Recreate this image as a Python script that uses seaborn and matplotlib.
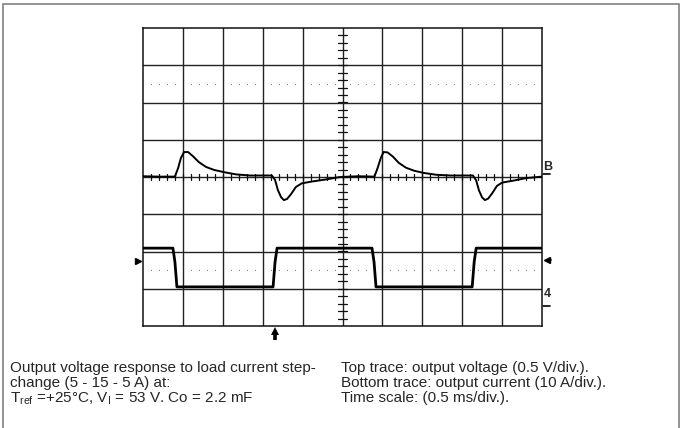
import numpy as np
import matplotlib
matplotlib.use("Agg")
import matplotlib.pyplot as plt
from matplotlib.patches import Rectangle
import seaborn as sns

sns.set_style("white")
plt.rcParams["font.family"] = ["Liberation Sans", "DejaVu Sans"]
plt.rcParams["mathtext.fontset"] = "custom"
plt.rcParams["mathtext.rm"] = "Liberation Sans"

# top trace: output voltage (divisions)
volt_t = [0.00, 0.40, 0.80, 0.88, 0.95, 1.03, 1.13, 1.25, 1.40, 1.58, 1.78, 2.03, 2.33, 2.68,
          3.23, 3.31, 3.38, 3.46, 3.53, 3.61, 3.71, 3.83, 3.98, 4.24, 4.56, 4.94, 5.40,
          5.80, 5.88, 5.96, 6.03, 6.13, 6.26, 6.41, 6.59, 6.79, 7.03, 7.35, 7.70,
          8.27, 8.35, 8.42, 8.50, 8.57, 8.65, 8.75, 8.87, 9.00, 9.27, 9.60, 10.00]
volt_v = [0.02, 0.01, 0.01, 0.24, 0.51, 0.67, 0.67, 0.56, 0.40, 0.27, 0.19, 0.13, 0.07, 0.04,
          0.04, -0.08, -0.35, -0.54, -0.62, -0.59, -0.46, -0.27, -0.17, -0.12, -0.07, 0.00, 0.02,
          0.01, 0.24, 0.51, 0.67, 0.66, 0.55, 0.38, 0.25, 0.17, 0.11, 0.06, 0.04,
          0.04, -0.09, -0.36, -0.55, -0.62, -0.58, -0.44, -0.24, -0.15, -0.10, -0.03, 0.01]

# bottom trace: output current (divisions)
curr_t = [0.00, 0.75, 0.80, 0.85, 3.26, 3.31, 3.36, 5.74, 5.79, 5.84, 8.25, 8.30, 8.35, 10.00]
curr_v = [-1.91, -1.91, -2.28, -2.95, -2.95, -2.28, -1.91, -1.91, -2.28, -2.95, -2.95, -2.28, -1.91, -1.91]

caption_left = ["Output voltage response to load current step-",
                "change (5 - 15 - 5 A) at:",
                r"T$_{\rm ref}$ =+25°C, V$_{\rm I}$ = 53 V. Co = 2.2 mF"]
caption_right = ["Top trace: output voltage (0.5 V/div.).",
                 "Bottom trace: output current (10 A/div.).",
                 "Time scale: (0.5 ms/div.)."]

W, H = 684, 428
fig = plt.figure(figsize=(W / 100, H / 100), dpi=100)
ax = fig.add_axes([143 / W, 1 - 326 / H, (542 - 143) / W, (326 - 28) / H])
ax.set_xlim(0, 10)
ax.set_ylim(-4, 4)
ax.set_xticks([])
ax.set_yticks([])
for s in ax.spines.values():
    s.set_color("#111111")
    s.set_linewidth(1.1)

# screen graticule
for x in range(1, 10):
    ax.axvline(x, color="#222222", lw=1.0, zorder=1)
for y in range(-3, 4):
    ax.axhline(y, color="#222222", lw=1.0, zorder=1)

minor = np.arange(0, 10.01, 0.2)
minor = minor[np.abs(minor - np.round(minor)) > 0.05]
for yd in (2.5, -2.5):
    ax.plot(minor, np.full_like(minor, yd), ls="none", marker="s", ms=0.8,
            mew=0, color="#888888", zorder=1)
for x in np.arange(0.2, 10, 0.2):
    ax.plot([x, x], [-0.08, 0.08], color="#111111", lw=0.9, zorder=1)
for y in np.arange(-3.8, 4, 0.2):
    ax.plot([4.88, 5.12], [y, y], color="#111111", lw=0.9, zorder=1)

sns.lineplot(x=volt_t, y=volt_v, ax=ax, color="black", lw=1.4, sort=False, zorder=3)
sns.lineplot(x=curr_t, y=curr_v, ax=ax, color="black", lw=2.0, sort=False, zorder=3)

# channel markers
ax.text(10.04, 0.27, "B", fontsize=9, fontweight="bold", ha="left", va="center",
        clip_on=False)
ax.plot([10.03, 10.2], [0.07, 0.07], color="black", lw=1.2, clip_on=False)
ax.plot([10.12], [-2.23], marker="<", ms=5, color="black", clip_on=False)
ax.plot([10.12, 10.22], [-2.23, -2.23], color="black", lw=1.2, clip_on=False)
ax.text(10.04, -3.13, "4", fontsize=9, fontweight="bold", ha="left", va="center",
        clip_on=False)
ax.plot([10.03, 10.2], [-3.46, -3.46], color="black", lw=1.2, clip_on=False)
ax.plot([-0.12], [-2.25], marker=">", ms=5, color="black", clip_on=False)
# trigger arrow below the screen
ax.plot([3.31, 3.31], [-4.14, -4.37], color="black", lw=2.6, clip_on=False,
        solid_capstyle="butt")
ax.plot([3.31], [-4.13], marker="^", ms=6, mew=0, color="black", clip_on=False)

# captions
for i, line in enumerate(caption_left):
    fig.text(10 / W, 1 - (372 + 15 * i) / H, line, fontsize=11, va="baseline")
for i, line in enumerate(caption_right):
    fig.text(341 / W, 1 - (372 + 15 * i) / H, line, fontsize=11, va="baseline")

fig.patches.append(Rectangle((3 / W, -0.01), (679 - 3) / W, 1 - 4 / H + 0.01,
                             transform=fig.transFigure, fill=False,
                             edgecolor="#808080", lw=1.2))

fig.savefig("out.png", dpi=100)
